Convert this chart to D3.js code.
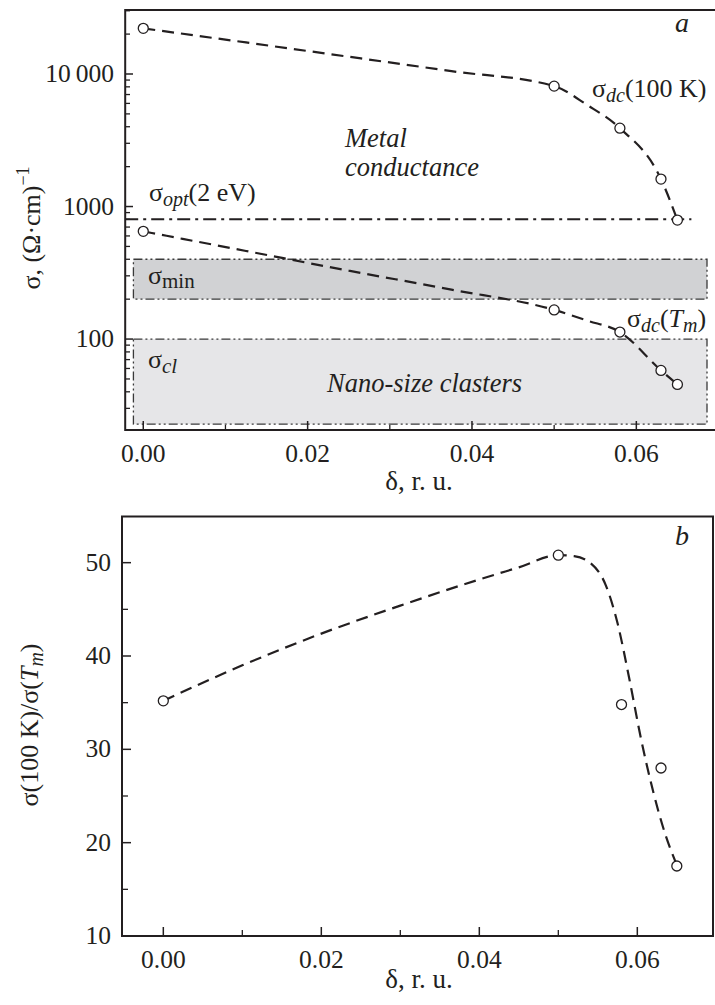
<!DOCTYPE html>
<html>
<head>
<meta charset="utf-8">
<script src="https://d3js.org/d3.v7.min.js"></script>
<style>
body { margin: 0; background: #fff; }
svg text { font-family: "Liberation Serif", "Times New Roman", serif; fill: #231f20; }
</style>
</head>
<body>
<script>
// measured points
var delta = [0, 0.05, 0.058, 0.063, 0.065];
var sigma100K = [22100, 8100, 3900, 1610, 790];
var sigmaTm = [650, 166, 113, 58, 45.5];
var ratio = [35.2, 50.8, 34.8, 28.0, 17.5];

// dashed guide curves
var fitDeltaA = [0, 0.0125, 0.025, 0.0375, 0.05, 0.054, 0.058, 0.063, 0.065];
var fit100K = [22100, 17300, 13500, 10500, 8100, 5850, 3900, 1610, 790];
var fitTm = [650, 462, 328, 236, 166, 138, 113, 58, 45.5];
var fitDeltaB = [0, 0.01, 0.02, 0.03, 0.04, 0.045, 0.05, 0.052, 0.054, 0.056, 0.0575, 0.059, 0.0605, 0.062, 0.0635, 0.0649];
var fitRatio = [35.2, 39.0, 42.4, 45.4, 48.2, 49.5, 50.8, 50.7, 50.0, 47.6, 43.5, 37.5, 31.0, 25.5, 21.0, 17.8];

var sigmaOpt = 800;
var optRange = [-0.0022, 0.0667];
var bandNames = ["min", "cl"];
var bandLo = [200, 22.8];
var bandHi = [400, 100];
var bandRange = [-0.0012, 0.0686];

var xTicksMajor = [0, 0.02, 0.04, 0.06];
var xTicksMinor = [0.01, 0.03, 0.05];
var logTicksMajor = [100, 1000, 10000];
var ratioTicksMajor = [10, 20, 30, 40, 50];
var ratioTicksMinor = [15, 25, 35, 45];

var ink = "#231f20";
var svg = d3.select("body").append("svg")
    .attr("width", 715)
    .attr("height", 1005);

// ---------- panel a ----------
var xa = d3.scaleLinear().domain([-0.0022, 0.0695]).range([125.2, 714.4]);
var ya = d3.scaleLog().domain([20.6, 30400]).range([430, 10]);
var ga = svg.append("g");

// shaded bands
bandNames.forEach(function(n, i) {
  ga.append("rect")
    .attr("x", xa(bandRange[0]))
    .attr("y", ya(bandHi[i]))
    .attr("width", xa(bandRange[1]) - xa(bandRange[0]))
    .attr("height", ya(bandLo[i]) - ya(bandHi[i]))
    .style("fill", i == 0 ? "#d1d2d4" : "#e6e6e8")
    .style("stroke", "#3a3a3a")
    .style("stroke-width", "1.3px")
    .style("stroke-dasharray", "9,3,2,3,2,3");
});

// sigma_opt line
ga.append("line")
  .attr("x1", xa(optRange[0])).attr("x2", xa(optRange[1]))
  .attr("y1", ya(sigmaOpt)).attr("y2", ya(sigmaOpt))
  .style("stroke", ink)
  .style("stroke-width", "2px")
  .style("stroke-dasharray", "13,5,3,5");

var lineA = d3.line()
    .x(function(d, i) { return xa(fitDeltaA[i]); })
    .y(function(d) { return ya(d); })
    .curve(d3.curveMonotoneX);
[fit100K, fitTm].forEach(function(f) {
  ga.append("path")
    .attr("d", lineA(f))
    .style("fill", "none")
    .style("stroke", ink)
    .style("stroke-width", "2.2px")
    .style("stroke-dasharray", "12,7");
});
[sigma100K, sigmaTm].forEach(function(s) {
  ga.selectAll(null)
    .data(s)
    .enter().append("circle")
    .attr("cx", function(d, i) { return xa(delta[i]); })
    .attr("cy", function(d) { return ya(d); })
    .attr("r", 5)
    .style("fill", "#fff")
    .style("stroke", ink)
    .style("stroke-width", "1.3px");
});

// frame of panel a (open on the right)
ga.append("path")
  .attr("d", "M715,10H125.2V430H715")
  .style("fill", "none")
  .style("stroke", ink)
  .style("stroke-width", "2px");

// ticks
var logMinor = [];
[10, 100, 1000, 10000].forEach(function(dec) {
  for (var k = 2; k <= 9; k++) {
    var v = dec * k;
    if (v > 20.6 && v < 30400) logMinor.push(v);
  }
});
ga.selectAll(null).data(logTicksMajor).enter().append("line")
  .attr("x1", 125).attr("x2", 133)
  .attr("y1", function(d) { return ya(d); }).attr("y2", function(d) { return ya(d); })
  .style("stroke", ink).style("stroke-width", "1.5px");
ga.selectAll(null).data(logMinor).enter().append("line")
  .attr("x1", 125).attr("x2", 130)
  .attr("y1", function(d) { return ya(d); }).attr("y2", function(d) { return ya(d); })
  .style("stroke", ink).style("stroke-width", "1.3px");
ga.selectAll(null).data(xTicksMajor).enter().append("line")
  .attr("x1", function(d) { return xa(d); }).attr("x2", function(d) { return xa(d); })
  .attr("y1", 430).attr("y2", 421)
  .style("stroke", ink).style("stroke-width", "1.5px");
ga.selectAll(null).data(xTicksMinor).enter().append("line")
  .attr("x1", function(d) { return xa(d); }).attr("x2", function(d) { return xa(d); })
  .attr("y1", 430).attr("y2", 425)
  .style("stroke", ink).style("stroke-width", "1.3px");

ga.selectAll(null).data(logTicksMajor).enter().append("text")
  .attr("x", 114)
  .attr("y", function(d) { return ya(d) + 8; })
  .attr("text-anchor", "end")
  .style("font-size", "25.5px")
  .text(function(d) { return d >= 10000 ? "10\u2009000" : d; });
ga.selectAll(null).data(xTicksMajor).enter().append("text")
  .attr("x", function(d) { return xa(d); })
  .attr("y", 462)
  .attr("text-anchor", "middle")
  .style("font-size", "25.5px")
  .text(function(d) { return d3.format(".2f")(d); });

ga.append("text").attr("x", 419).attr("y", 490)
  .attr("text-anchor", "middle").style("font-size", "27px").text("\u03b4, r. u.");

var yl = ga.append("text")
  .attr("transform", "translate(40,228) rotate(-90)")
  .attr("text-anchor", "middle")
  .style("font-size", "26px");
yl.append("tspan").text("\u03c3, (\u03a9\u00b7cm)");
yl.append("tspan").attr("dy", -11).style("font-size", "18px").text("\u22121");

ga.append("text").attr("x", 675).attr("y", 32)
  .style("font-size", "28px").style("font-style", "italic").text("a");

ga.append("text").attr("x", 345).attr("y", 147)
  .style("font-size", "26.5px").style("font-style", "italic").text("Metal");
ga.append("text").attr("x", 345).attr("y", 176)
  .style("font-size", "26.5px").style("font-style", "italic").text("conductance");
ga.append("text").attr("x", 327).attr("y", 392)
  .style("font-size", "26.5px").style("font-style", "italic").text("Nano-size clasters");

var t1 = ga.append("text").attr("x", 592).attr("y", 97).style("font-size", "26px");
t1.append("tspan").text("\u03c3");
t1.append("tspan").attr("dy", 5).style("font-size", "20px").style("font-style", "italic").text("dc");
t1.append("tspan").attr("dy", -5).text("(100 K)");

var t2 = ga.append("text").attr("x", 627).attr("y", 327).style("font-size", "26px");
t2.append("tspan").text("\u03c3");
t2.append("tspan").attr("dy", 5).style("font-size", "20px").style("font-style", "italic").text("dc");
t2.append("tspan").attr("dy", -5).text("(");
t2.append("tspan").style("font-style", "italic").text("T");
t2.append("tspan").attr("dy", 5).style("font-size", "20px").style("font-style", "italic").text("m");
t2.append("tspan").attr("dy", -5).text(")");

var t3 = ga.append("text").attr("x", 149).attr("y", 201).style("font-size", "26px");
t3.append("tspan").text("\u03c3");
t3.append("tspan").attr("dy", 5).style("font-size", "20px").style("font-style", "italic").text("opt");
t3.append("tspan").attr("dy", -5).text("(2 eV)");

var t4 = ga.append("text").attr("x", 148).attr("y", 284).style("font-size", "26px");
t4.append("tspan").text("\u03c3");
t4.append("tspan").attr("dy", 4).style("font-size", "21px").text("min");

var t5 = ga.append("text").attr("x", 148).attr("y", 368).style("font-size", "26px");
t5.append("tspan").text("\u03c3");
t5.append("tspan").attr("dy", 5).style("font-size", "21px").style("font-style", "italic").text("cl");

// ---------- panel b ----------
var xb = d3.scaleLinear().domain([-0.00523, 0.06958]).range([122, 713]);
var yb = d3.scaleLinear().domain([10, 55]).range([936, 516]);
var gb = svg.append("g");

gb.append("path")
  .attr("d", d3.line()
    .x(function(d, i) { return xb(fitDeltaB[i]); })
    .y(function(d) { return yb(d); })
    .curve(d3.curveMonotoneX)(fitRatio))
  .style("fill", "none")
  .style("stroke", ink)
  .style("stroke-width", "2.2px")
  .style("stroke-dasharray", "12,7");

gb.selectAll(null).data(ratio).enter().append("circle")
  .attr("cx", function(d, i) { return xb(delta[i]); })
  .attr("cy", function(d) { return yb(d); })
  .attr("r", 5)
  .style("fill", "#fff")
  .style("stroke", ink)
  .style("stroke-width", "1.3px");

gb.append("rect")
  .attr("x", 122).attr("y", 516.5).attr("width", 591).attr("height", 419.5)
  .style("fill", "none").style("stroke", ink).style("stroke-width", "2px");

gb.selectAll(null).data(ratioTicksMajor).enter().append("line")
  .attr("x1", 122).attr("x2", 131)
  .attr("y1", function(d) { return yb(d); }).attr("y2", function(d) { return yb(d); })
  .style("stroke", ink).style("stroke-width", "1.5px");
gb.selectAll(null).data(ratioTicksMinor).enter().append("line")
  .attr("x1", 122).attr("x2", 128)
  .attr("y1", function(d) { return yb(d); }).attr("y2", function(d) { return yb(d); })
  .style("stroke", ink).style("stroke-width", "1.3px");
gb.selectAll(null).data(xTicksMajor).enter().append("line")
  .attr("x1", function(d) { return xb(d); }).attr("x2", function(d) { return xb(d); })
  .attr("y1", 936).attr("y2", 927)
  .style("stroke", ink).style("stroke-width", "1.5px");
gb.selectAll(null).data(xTicksMinor).enter().append("line")
  .attr("x1", function(d) { return xb(d); }).attr("x2", function(d) { return xb(d); })
  .attr("y1", 936).attr("y2", 930)
  .style("stroke", ink).style("stroke-width", "1.3px");

gb.selectAll(null).data(ratioTicksMajor).enter().append("text")
  .attr("x", 111)
  .attr("y", function(d) { return yb(d) + 8; })
  .attr("text-anchor", "end")
  .style("font-size", "25.5px")
  .text(function(d) { return d; });
gb.selectAll(null).data(xTicksMajor).enter().append("text")
  .attr("x", function(d) { return xb(d); })
  .attr("y", 968)
  .attr("text-anchor", "middle")
  .style("font-size", "25.5px")
  .text(function(d) { return d3.format(".2f")(d); });

gb.append("text").attr("x", 419).attr("y", 988)
  .attr("text-anchor", "middle").style("font-size", "27px").text("\u03b4, r. u.");

gb.append("text").attr("x", 675).attr("y", 545)
  .style("font-size", "28px").style("font-style", "italic").text("b");

var yl2 = gb.append("text")
  .attr("transform", "translate(38,725) rotate(-90)")
  .attr("text-anchor", "middle")
  .style("font-size", "26px");
yl2.append("tspan").text("\u03c3(100 K)/\u03c3(");
yl2.append("tspan").style("font-style", "italic").text("T");
yl2.append("tspan").attr("dy", 5).style("font-size", "20px").style("font-style", "italic").text("m");
yl2.append("tspan").attr("dy", -5).text(")");
</script>
</body>
</html>
